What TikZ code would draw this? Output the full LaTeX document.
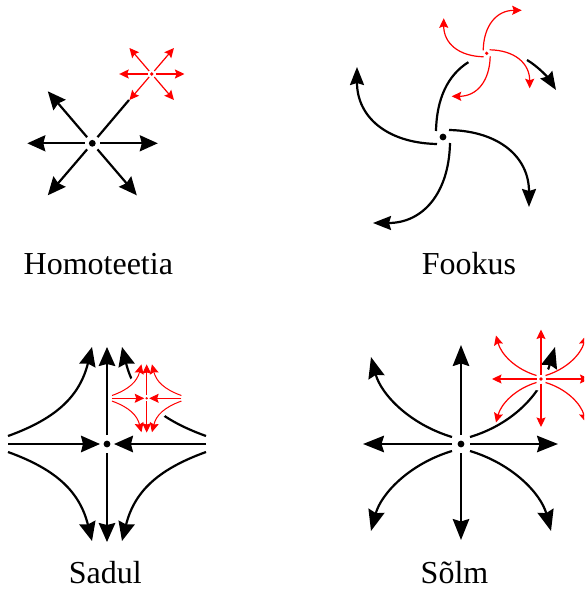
\documentclass[tikz,border=0pt]{standalone}
\usepackage{fontspec}
\setmainfont{Liberation Serif}
\usetikzlibrary{arrows.meta}
\tikzset{
  bline/.style={line width=2.2pt},
  barr/.style={bline, -{Stealth[length=18pt,width=16pt,inset=2pt]}},
  barrF/.style={bline, -{Stealth[length=18pt,width=14pt,inset=2pt]}},
  barrS/.style={bline, -{Stealth[length=19pt,width=16.5pt,inset=2pt]}},
  barrN/.style={bline, -{Stealth[length=21pt,width=16.5pt,inset=2.5pt]}},
  rarr/.style={red, line width=1.2pt, -{Stealth[length=9.5pt,width=9pt,inset=1.5pt]}},
  lbl/.style={font=\fontsize{32}{38}\selectfont, inner sep=0pt, anchor=base},
  cover/.style={fill=white, draw=none}
}
% Homoteetia rays (without the up-right one)
\newcommand\HomRays[1]{%
  \draw[#1] (-7.8,0) -- (-65,0);
  \draw[#1] (7.8,0) -- (65.5,0);
  \draw[#1] (-5.2,-6.1) -- (-44.5,-52);
  \draw[#1] (-5.2,6.1) -- (-44.5,52);
  \draw[#1] (5.2,6.1) -- (44.5,52);
}
% Fookus arcs (without the up one)
\newcommand\FocRays[1]{%
  \draw[#1] (6,-7) .. controls (56,-6) and (86,20) .. (86,70);
  \draw[#1] (7,6) .. controls (6,56) and (-20,86) .. (-70,86);
  \draw[#1] (-6,7) .. controls (-56,6) and (-86,-20) .. (-86,-70);
}
% Sadul
\newcommand\SadRays[1]{%
  \draw[#1] (-99,0) -- (-7,0);
  \draw[#1] (99,0) -- (7,0);
  \draw[#1] (0,-9) -- (0,-97);
  \draw[#1] (0,9) -- (0,98);
  \draw[#1] (-99,-8) .. controls (-49,-26) and (-27,-49) .. (-15,-97);
  \draw[#1] (99,-8) .. controls (49,-26) and (27,-49) .. (15,-97);
  \draw[#1] (-99,8) .. controls (-49,26) and (-27,49) .. (-15,97);
  \draw[#1] (99,8) .. controls (49,26) and (27,49) .. (15,97);
}
% Solm (without the up-right curve)
\newcommand\SolRays[1]{%
  \draw[#1] (0,-9) -- (0,-99);
  \draw[#1] (0,9) -- (0,96);
  \draw[#1] (-9,0) -- (-98,0);
  \draw[#1] (9,0) -- (97,0);
  \draw[#1] (-9,-7) .. controls (-52,-20) and (-80,-50) .. (-90,-87);
  \draw[#1] (-9,7) .. controls (-52,20) and (-80,50) .. (-90,87);
  \draw[#1] (9,7) .. controls (52,20) and (80,50) .. (90,87);
}
\begin{document}
\begin{tikzpicture}[x=1pt,y=-1pt]
\useasboundingbox (0,0) rectangle (584,591);
\clip (0,0) rectangle (584,591);

% ---------------- Homoteetia ----------------
\coordinate (hc) at (92.3,143.3);
\coordinate (hr) at (151.7,74);
\begin{scope}[shift={(hc)}]
  \HomRays{barr}
  \draw[bline] (5.2,-6.1) -- (36.7,-43.3);
\end{scope}
\begin{scope}[shift={(hr)}, scale=0.5]
  \HomRays{rarr}
  \draw[rarr] (5.2,-6.1) -- (44.5,-52);
\end{scope}
\fill (hc) circle (3.4pt);
\fill[red] (hr) circle (1.8pt);
\node[lbl] (thom) at (98.3,274.3) {Homoteetia};

% ---------------- Fookus ----------------
\coordinate (fc) at (443,137);
\coordinate (fr) at (486.7,53.3);
\begin{scope}[shift={(fc)}]
  \FocRays{barrF}
  \draw[bline] (-7,-6) .. controls (-6.36,-38) and (4.52,-61.8) .. (25.38,-74.8);
  \draw[barrF] (84,-77) .. controls (96,-70) and (106,-58) .. (113,-47);
\end{scope}
\begin{scope}[shift={(fr)}, scale=0.5]
  \FocRays{rarr}
  \draw[rarr] (-7,-6) .. controls (-6,-56) and (20,-86) .. (70,-86);
\end{scope}
\fill (fc) circle (3.4pt);
\fill[red] (fr) circle (1.8pt);
\node[lbl] (tfok) at (468.9,274.3) {Fookus};

% ---------------- Sadul ----------------
\coordinate (sc) at (107,444);
\coordinate (sr) at (146.7,398.3);
\begin{scope}[shift={(sc)}]
  \SadRays{barrS}
\end{scope}
\fill[cover] (sr) circle (25pt);
\begin{scope}[shift={(sr)}, scale=0.35]
  \SadRays{rarr, line width=1pt}
\end{scope}
\fill (sc) circle (3.4pt);
\fill[red] (sr) circle (1.3pt);
\node[lbl] (tsad) at (105.3,583.3) {Sadul};

% ---------------- Solm ----------------
\coordinate (nc) at (461,444);
\coordinate (nr) at (541,379);
\begin{scope}[shift={(nc)}]
  \SolRays{barrN}
  \draw[barrN] (9,-7) .. controls (52,-20) and (80,-50) .. (94,-97);
\end{scope}
\fill[cover] (nr) circle (12pt);
\begin{scope}[shift={(nr)}, scale=0.5]
  \SolRays{rarr}
  \draw[rarr] (9,-7) .. controls (52,-20) and (80,-50) .. (90,-87);
\end{scope}
\fill (nc) circle (3.4pt);
\fill[red] (nr) circle (1.8pt);
\node[lbl] (tsol) at (454.5,583.3) {Sõlm};
\end{tikzpicture}
\end{document}
